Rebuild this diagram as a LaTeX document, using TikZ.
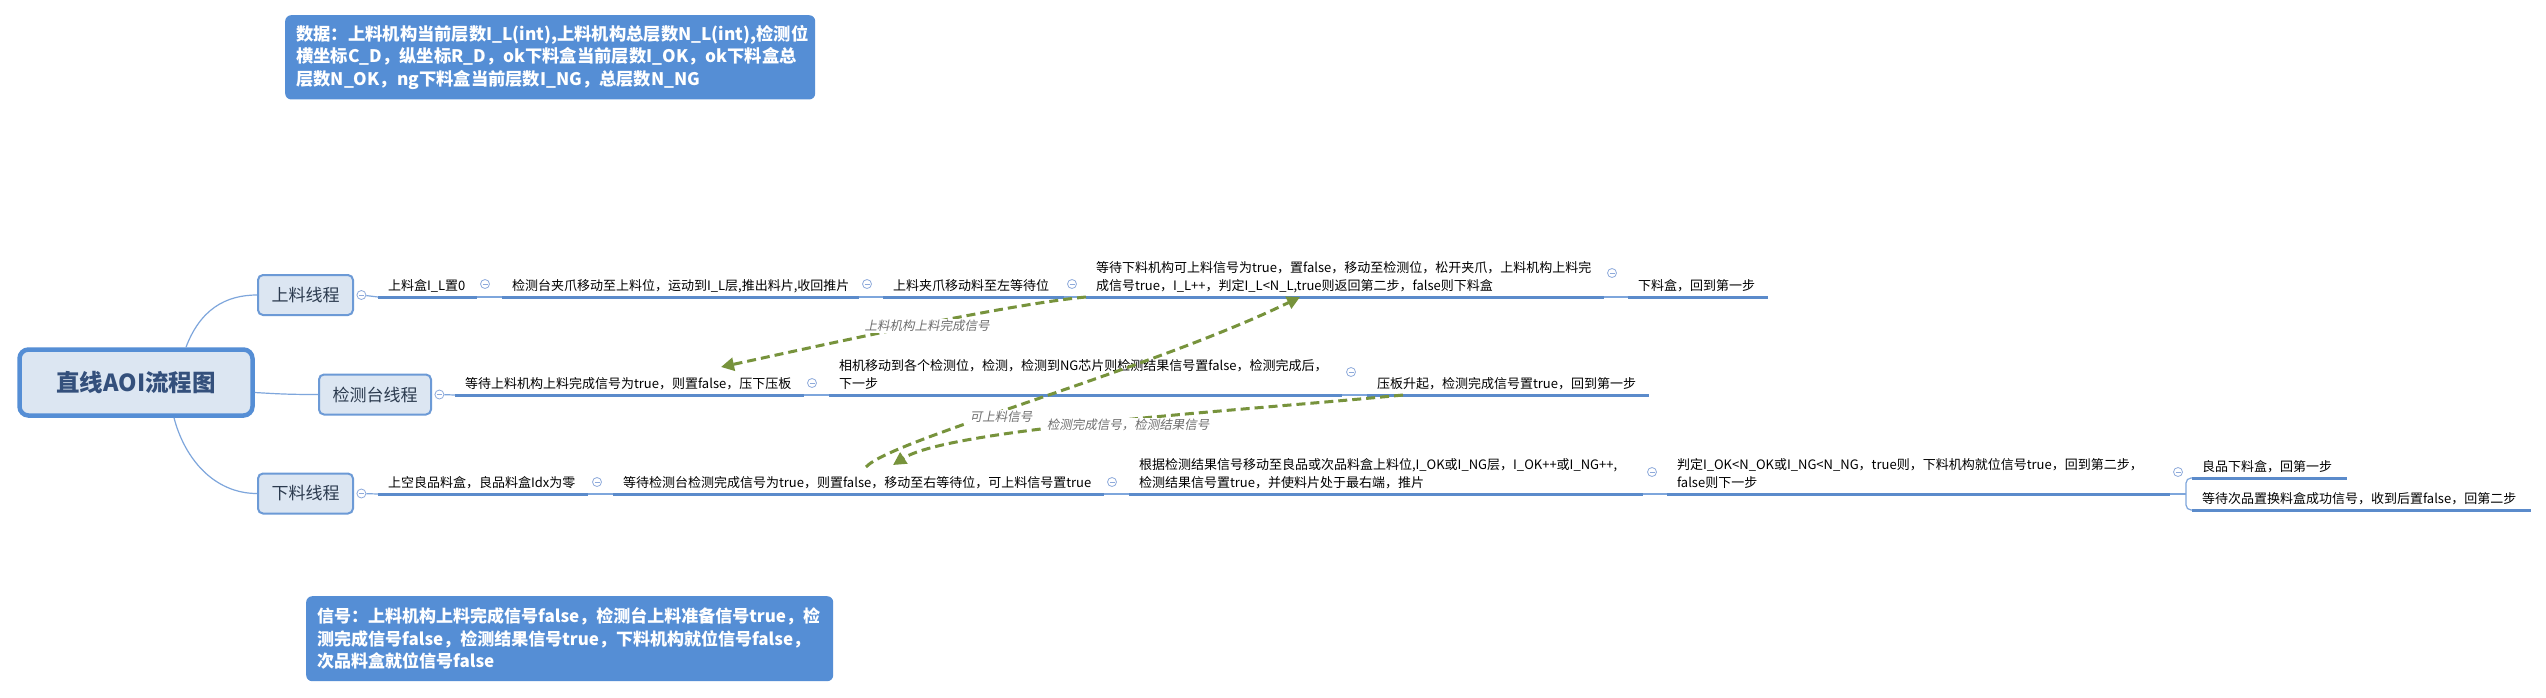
\documentclass[tikz,border=0pt]{standalone}
\usepackage{fontspec}
\setmainfont{Noto Sans CJK SC}
\newfontfamily\lblfont[FakeSlant=0.2]{Noto Sans CJK SC}
\usetikzlibrary{positioning,arrows.meta}
\definecolor{mmblue}{HTML}{558ED5}
\definecolor{linecol}{HTML}{5B8BCB}
\definecolor{thincol}{HTML}{7EA6DC}
\definecolor{foldcol}{HTML}{8EAADB}
\definecolor{topicfill}{HTML}{DCE6F2}
\definecolor{brdcol}{HTML}{6C9AD6}
\definecolor{titlecol}{HTML}{34507C}
\definecolor{branchtxt}{HTML}{2B3A4E}
\definecolor{sigcol}{HTML}{77933C}
\definecolor{lblcol}{HTML}{6E6E6E}
\tikzset{
  root/.style={draw=mmblue, line width=4.5pt, fill=topicfill, rounded corners=9pt,
    minimum width=233pt, minimum height=66pt, text=titlecol,
    font=\fontsize{23.5}{26}\selectfont\bfseries},
  branch/.style={draw=brdcol, line width=2pt, fill=topicfill, rounded corners=5pt,
    minimum height=40pt, inner sep=0pt, text=branchtxt, font=\fontsize{17}{20}\selectfont},
  note/.style={fill=mmblue, rounded corners=6pt, anchor=north west, align=left,
    inner xsep=11pt, inner ysep=10pt, text=white,
    font=\fontsize{17}{22.5}\selectfont\bfseries},
  item/.style={anchor=south west, align=left, inner xsep=10pt, inner ysep=2pt, outer sep=0pt,
    font=\fontsize{13}{18}\selectfont, execute at end node={\rule[-5pt]{0pt}{1pt}}},
  fold/.style={circle, draw=foldcol, line width=0.8pt, fill=white, minimum size=9pt, inner sep=0pt,
    path picture={\draw[foldcol, line width=0.8pt]
      ([xshift=-2.5pt]path picture bounding box.center) -- ([xshift=2.5pt]path picture bounding box.center);}},
  uline/.style={draw=linecol, line width=3pt},
  thinline/.style={draw=thincol, line width=1.2pt},
  sigline/.style={draw=sigcol, line width=3pt, dash pattern=on 9pt off 5pt,
    -{Triangle[length=13pt,width=13pt]}},
  siglbl/.style={text=lblcol, fill=white, inner sep=1.5pt, font=\lblfont\fontsize{12.5}{15}\selectfont}
}
\begin{document}
\begin{tikzpicture}[x=1pt,y=-1pt]
  \useasboundingbox (0,0) rectangle (2546,697);
  \fill[white] (0,0) rectangle (2546,697);
  % notes
  \node[note, text width=508pt, minimum height=84pt, font=\fontsize{17.3}{22.5}\selectfont\bfseries] (data) at (285,15)
    {数据：上料机构当前层数I\_L(int),上料机构总层数N\_L(int),检测位\\横坐标C\_D，纵坐标R\_D，ok下料盒当前层数I\_OK，ok下料盒总\\层数N\_OK，ng下料盒当前层数I\_NG，总层数N\_NG};
  \node[note, text width=505pt, minimum height=85pt] (sigs) at (306,596)
    {信号：上料机构上料完成信号false，检测台上料准备信号true，检\\测完成信号false，检测结果信号true，下料机构就位信号false，\\次品料盒就位信号false};
  % central topic and threads
  \node[root] (root) at (136,382.5) {直线AOI流程图};
  \node[branch, minimum width=95pt] (b1) at (305.5,295) {上料线程};
  \node[branch, minimum width=112pt] (b2) at (375,394.5) {检测台线程};
  \node[branch, minimum width=95pt] (b3) at (305.5,493.5) {下料线程};
  \draw[thinline] ([xshift=50pt]root.north) .. controls (200,310) and (225,295) .. (b1.west);
  \draw[thinline] ([yshift=-10pt]root.east) .. controls (280,394) and (290,394.5) .. (b2.west);
  \draw[thinline] ([xshift=38pt]root.south) .. controls (185,460) and (215,493.5) .. (b3.west);
  \node[fold, right=2.5pt of b1] (b1f) {};
  \node[fold, right=2.5pt of b2] (b2f) {};
  \node[fold, right=2.5pt of b3] (b3f) {};
  % loading thread
  \node[item, text width=79pt] (r1a) at (378,297) {上料盒I\_L置0};
  \node[item, text width=337pt] (r1b) at (502,297) {检测台夹爪移动至上料位，运动到I\_L层,推出料片,收回推片};
  \node[item, text width=161pt] (r1c) at (883,297) {上料夹爪移动料至左等待位};
  \node[item, text width=498pt] (r1d) at (1086,297)
    {等待下料机构可上料信号为true，置false，移动至检测位，松开夹爪，上料机构上料完\\成信号true，I\_L++，判定I\_L<N\_L,true则返回第二步，false则下料盒};
  \node[item, text width=120pt] (r1e) at (1628,297) {下料盒，回到第一步};
  \draw[thinline] (b1f) -- (r1a.south west);
  \draw[thinline] (r1a.south east) -- (r1b.south west);
  \draw[thinline] (r1b.south east) -- (r1c.south west);
  \draw[thinline] (r1c.south east) -- (r1d.south west);
  \draw[thinline] (r1d.south east) -- (r1e.south west);
  \draw[uline] (r1a.south west) -- (r1a.south east);
  \draw[uline] (r1b.south west) -- (r1b.south east);
  \draw[uline] (r1c.south west) -- (r1c.south east);
  \draw[uline] (r1d.south west) -- (r1d.south east);
  \draw[uline] (r1e.south west) -- (r1e.south east);
  \node[fold] (r1af) at ([xshift=8pt,yshift=13pt]r1a.south east) {};
  \node[fold] (r1bf) at ([xshift=8pt,yshift=13pt]r1b.south east) {};
  \node[fold] (r1cf) at ([xshift=8pt,yshift=13pt]r1c.south east) {};
  \node[fold] (r1df) at ([xshift=8pt,yshift=24pt]r1d.south east) {};
  % inspection thread
  \node[item, text width=329pt] (r2a) at (455,395) {等待上料机构上料完成信号为true，则置false，压下压板};
  \node[item, text width=493pt] (r2b) at (829,395)
    {相机移动到各个检测位，检测，检测到NG芯片则检测结果信号置false，检测完成后，\\下一步};
  \node[item, text width=262pt] (r2c) at (1367,395) {压板升起，检测完成信号置true，回到第一步};
  \draw[thinline] (b2f) -- (r2a.south west);
  \draw[thinline] (r2a.south east) -- (r2b.south west);
  \draw[thinline] (r2b.south east) -- (r2c.south west);
  \draw[uline] (r2a.south west) -- (r2a.south east);
  \draw[uline] (r2b.south west) -- (r2b.south east);
  \draw[uline] (r2c.south west) -- (r2c.south east);
  \node[fold] (r2af) at ([xshift=8pt,yshift=12pt]r2a.south east) {};
  \node[fold] (r2bf) at ([xshift=9pt,yshift=23pt]r2b.south east) {};
  % unloading thread
  \node[item, text width=190pt] (r3a) at (378,494) {上空良品料盒，良品料盒Idx为零};
  \node[item, text width=471pt] (r3b) at (613,494) {等待检测台检测完成信号为true，则置false，移动至右等待位，可上料信号置true};
  \node[item, text width=494pt] (r3c) at (1129,494)
    {根据检测结果信号移动至良品或次品料盒上料位,I\_OK或I\_NG层，I\_OK++或I\_NG++,\\检测结果信号置true，并使料片处于最右端，推片};
  \node[item, text width=483pt] (r3d) at (1667,494)
    {判定I\_OK<N\_OK或I\_NG<N\_NG，true则，下料机构就位信号true，回到第二步，\\false则下一步};
  \node[item, text width=135pt] (r3e) at (2192,478) {良品下料盒，回第一步};
  \node[item, text width=319pt] (r3f) at (2192,510) {等待次品置换料盒成功信号，收到后置false，回第二步};
  \coordinate (fork) at (2186,494);
  \draw[thinline] (b3f) -- (r3a.south west);
  \draw[thinline] (r3a.south east) -- (r3b.south west);
  \draw[thinline] (r3b.south east) -- (r3c.south west);
  \draw[thinline] (r3c.south east) -- (r3d.south west);
  \draw[thinline] (r3d.south east) -- (fork);
  \draw[thinline, rounded corners=5pt] (r3e.south west) -| (fork) |- (r3f.south west);
  \draw[uline] (r3a.south west) -- (r3a.south east);
  \draw[uline] (r3b.south west) -- (r3b.south east);
  \draw[uline] (r3c.south west) -- (r3c.south east);
  \draw[uline] (r3d.south west) -- (r3d.south east);
  \draw[uline] (r3e.south west) -- (r3e.south east);
  \draw[uline] (r3f.south west) -- (r3f.south east);
  \node[fold] (r3af) at ([xshift=9pt,yshift=12pt]r3a.south east) {};
  \node[fold] (r3bf) at ([xshift=8pt,yshift=12pt]r3b.south east) {};
  \node[fold] (r3cf) at ([xshift=9pt,yshift=22pt]r3c.south east) {};
  \node[fold] (r3df) at ([xshift=8pt,yshift=22pt]r3d.south east) {};
  % signals between threads
  \draw[sigline] (r1d.south west) .. controls (1000,305) and (800,350) .. ([xshift=266pt,yshift=28pt]r2a.south west);
  \draw[sigline] ([xshift=253pt,yshift=27pt]r3b.south west) .. controls (890,440) and (1150,370) .. ([xshift=214pt]r1d.south west);
  \draw[sigline] ([xshift=36pt]r2c.south west) .. controls (1250,410) and (950,428) .. ([xshift=280pt,yshift=29pt]r3b.south west);
  \node[siglbl] (l1) at (927,326) {上料机构上料完成信号};
  \node[siglbl] (l2) at (1001,417) {可上料信号};
  \node[siglbl] (l3) at (1128,425) {检测完成信号，检测结果信号};
\end{tikzpicture}
\end{document}
